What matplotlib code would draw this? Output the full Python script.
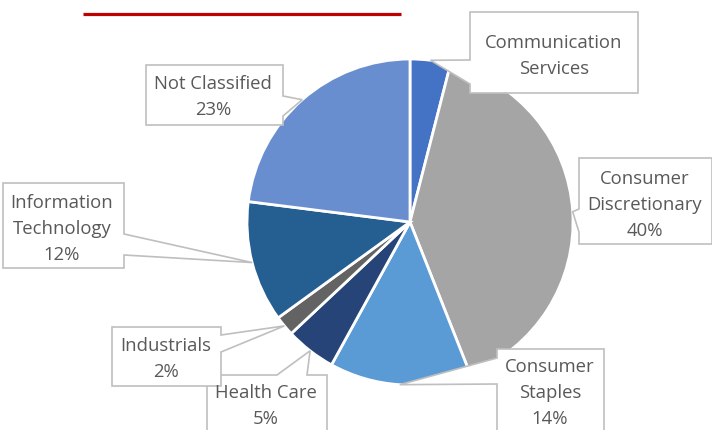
import numpy as np
import matplotlib.pyplot as plt
from matplotlib.patches import Polygon

plt.rcParams['font.family'] = ['Open Sans', 'DejaVu Sans']

sectors = ['Communication Services', 'Consumer Discretionary', 'Consumer Staples',
           'Health Care', 'Industrials', 'Information Technology', 'Not Classified']
weights = [4, 40, 14, 5, 2, 12, 23]
labels = ['Communication\nServices', 'Consumer\nDiscretionary\n40%', 'Consumer\nStaples\n14%',
          'Health Care\n5%', 'Industrials\n2%', 'Information\nTechnology\n12%', 'Not Classified\n23%']
colors = ['#4472C4', '#A5A5A5', '#5B9BD5', '#264478', '#636363', '#255E91', '#698ED0']

W, H = 712, 430
cx, cy, r = 410, 222, 163

fig = plt.figure(figsize=(W / 100, H / 100), dpi=100)
ax = fig.add_axes([(cx - r) / W, (H - cy - r) / H, 2 * r / W, 2 * r / H])
wedges, _ = ax.pie(weights, colors=colors, startangle=90, counterclock=False,
                   wedgeprops=dict(edgecolor='white', linewidth=2))
ax.set_aspect('auto')
ax.set_xlim(-1, 1)
ax.set_ylim(-1, 1)
ax.axis('off')

ov = fig.add_axes([0, 0, 1, 1], zorder=5)
ov.set_xlim(0, W)
ov.set_ylim(H, 0)
ov.axis('off')

# red rule under the (cropped) title
ov.plot([83, 401], [13.5, 13.5], color='#C00000', lw=2.3, solid_capstyle='butt')

# callout boxes: (x0, y0, x1, y1), side of wedge, wedge base, text centre
boxes = [
    ((470, 12, 638, 93), 'left', (60, 84), (554, 56)),
    ((579, 158, 712, 244), 'left', (209, 232), (645, 205)),
    ((497, 349, 604, 440), 'left', (358, 384), (550, 393)),
    ((207, 375, 327, 440), 'top', (277, 307), (266, 406)),
    ((112, 327, 221, 386), 'right', (335, 352), (166, 359)),
    ((3, 183, 124, 268), 'right', (234, 255), (62, 229)),
    ((146, 65, 283, 125), 'right', (96, 116), (213, 97)),
]

for w, lab, (box, side, (a, b), (tx, ty)) in zip(wedges, labels, boxes):
    mid = np.deg2rad((w.theta1 + w.theta2) / 2)
    tip = (cx + r * np.cos(mid), cy - r * np.sin(mid))
    x0, y0, x1, y1 = box
    if side == 'top':
        pts = [(x0, y0), (a, y0), tip, (b, y0), (x1, y0), (x1, y1), (x0, y1)]
    elif side == 'right':
        pts = [(x0, y0), (x1, y0), (x1, a), tip, (x1, b), (x1, y1), (x0, y1)]
    else:
        pts = [(x0, y0), (x1, y0), (x1, y1), (x0, y1), (x0, b), tip, (x0, a)]
    ov.add_patch(Polygon(pts, closed=True, facecolor='white', edgecolor='#BFBFBF', lw=1.2))
    ov.text(tx, ty, lab, ha='center', va='center', color='#595959',
            fontsize=13.3, linespacing=1.58)

fig.savefig('out.png', dpi=100)
